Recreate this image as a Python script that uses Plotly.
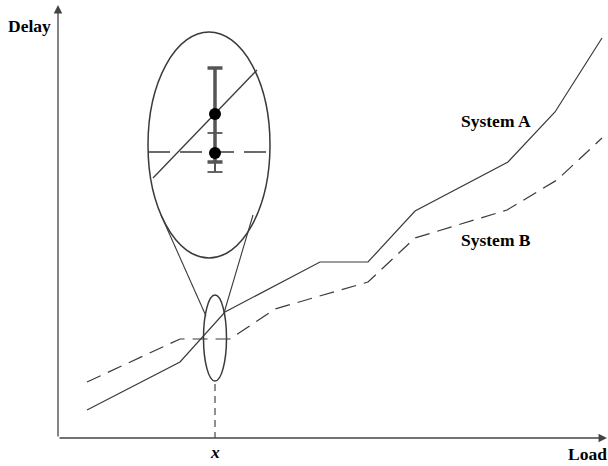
import plotly.graph_objects as go

# System A / System B: load vs delay (arbitrary units, origin at the axes corner)
load_a = [29, 122, 167, 262, 310, 357, 450, 497, 544]
delay_a = [28, 76, 126, 176, 176, 227, 276, 326, 400]
load_b = [29, 122, 172, 217, 310, 357, 449, 499, 544]
delay_b = [56, 99, 99, 129, 156, 200, 228, 258, 300]

# the load "x" that gets magnified
x_mark = 157
small_ell = dict(cx=157, cy=100, rx=11.5, ry=43)
big_ell = dict(cx=151, cy=293, rx=61, ry=113)

# inside the magnified view
zoom_line_a_x = [95, 199]
zoom_line_a_y = [260, 368]
zoom_line_b_x = [90, 212]
zoom_line_b_y = [286, 286]
dot_x = [157, 157]
dot_y = [324, 285]
err_a = [276, 370]
err_b = [266, 305]

ink = "#3a3a3a"
font = dict(family="Liberation Serif", size=17.5, color="black")

fig = go.Figure()
fig.add_trace(go.Scatter(x=load_a, y=delay_a, mode="lines",
                         line=dict(color=ink, width=1.2)))
fig.add_trace(go.Scatter(x=load_b, y=delay_b, mode="lines",
                         line=dict(color=ink, width=1.2, dash="15px,8px")))

# zoom view
fig.add_trace(go.Scatter(x=zoom_line_a_x, y=zoom_line_a_y, mode="lines",
                         line=dict(color=ink, width=1.3)))
fig.add_trace(go.Scatter(x=zoom_line_b_x, y=zoom_line_b_y, mode="lines",
                         line=dict(color=ink, width=1.5, dash="22px,10px")))
# error bars
fig.add_trace(go.Scatter(x=[x_mark, x_mark], y=err_a, mode="lines",
                         line=dict(color="#555555", width=3.5)))
fig.add_trace(go.Scatter(x=[x_mark, x_mark], y=err_b, mode="lines",
                         line=dict(color="#555555", width=2)))
for yy, w in [(err_a[0], 3.5), (err_a[1], 3.5), (err_b[0], 1.8), (err_b[1], 1.8)]:
    fig.add_trace(go.Scatter(x=[x_mark - 7.5, x_mark + 7.5], y=[yy, yy], mode="lines",
                             line=dict(color="#555555", width=w)))
fig.add_trace(go.Scatter(x=dot_x, y=dot_y, mode="markers",
                         marker=dict(color="black", size=12)))

shapes = []
for e in (small_ell, big_ell):
    shapes.append(dict(type="circle", xref="x", yref="y",
                       x0=e["cx"] - e["rx"], x1=e["cx"] + e["rx"],
                       y0=e["cy"] - e["ry"], y1=e["cy"] + e["ry"],
                       line=dict(color=ink, width=1.5)))
# funnel lines from small to big ellipse
shapes.append(dict(type="line", xref="x", yref="y", x0=103, y0=223, x1=148, y1=122,
                   line=dict(color=ink, width=1.1)))
shapes.append(dict(type="line", xref="x", yref="y", x0=195, y0=223, x1=166, y1=125,
                   line=dict(color=ink, width=1.1)))
# dashed drop line to the axis
shapes.append(dict(type="line", xref="x", yref="y", x0=x_mark, y0=small_ell["cy"] - small_ell["ry"] - 3,
                   x1=x_mark, y1=0, line=dict(color="#555555", width=1.3, dash="7px,5px")))

annotations = [
    # axes with arrows
    dict(x=0, y=433, ax=0, ay=0, xref="x", yref="y", axref="x", ayref="y",
         showarrow=True, arrowhead=2, arrowsize=1.3, arrowwidth=1.3, arrowcolor="#444", text=""),
    dict(x=549, y=0, ax=0, ay=0, xref="x", yref="y", axref="x", ayref="y",
         showarrow=True, arrowhead=2, arrowsize=1.3, arrowwidth=1.3, arrowcolor="#444", text=""),
    dict(x=-29, y=412, text="<b>Delay</b>", showarrow=False, font=font),
    dict(x=529, y=-16, text="<b>Load</b>", showarrow=False, font=font),
    dict(x=x_mark, y=-14, text="<b><i>x</i></b>", showarrow=False, font=font),
    dict(x=438, y=317, text="<b>System A</b>", showarrow=False, font=font),
    dict(x=438, y=198, text="<b>System B</b>", showarrow=False, font=font),
]

fig.update_layout(
    width=608, height=466, autosize=False,
    margin=dict(l=0, r=0, t=0, b=0),
    paper_bgcolor="white", plot_bgcolor="white",
    showlegend=False,
    shapes=shapes, annotations=annotations,
    xaxis=dict(range=[-58, 550], visible=False, fixedrange=True),
    yaxis=dict(range=[-28, 438], visible=False, fixedrange=True),
)

fig.write_html("out.html", config=dict(displayModeBar=False),
               post_script="document.body.style.margin='0';document.body.style.overflow='hidden';")
